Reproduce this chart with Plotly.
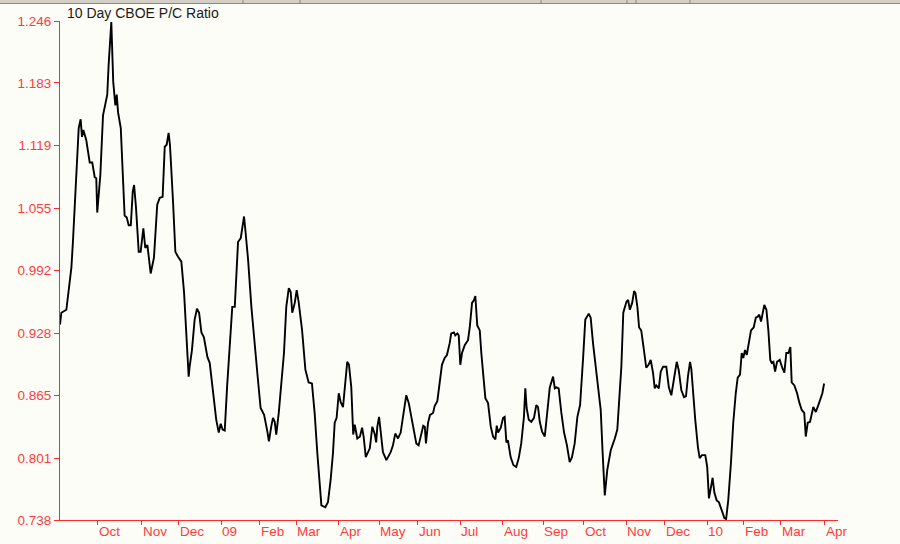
import plotly.graph_objects as go

# ---- data (trading-day index from start of series, 10-day CBOE put/call ratio) ----
day = [
    0.0, 0.7, 3.3, 4.1, 5.9, 6.7, 7.6, 8.5, 9.3, 9.7,
    10.7, 11.4, 12.1, 13.6, 15.4, 16.7, 18.0, 18.8, 19.3, 20.1,
    20.9, 22.3, 24.5, 25.2, 26.6, 27.6, 28.7, 29.4, 30.1, 31.5,
    32.7, 33.5, 34.6, 35.6, 36.7, 37.7, 38.4, 39.4, 40.8, 41.8,
    43.2, 44.2, 45.3, 47.0, 48.7, 50.4, 51.7, 53.2, 54.3, 55.3,
    56.3, 57.0, 58.6, 59.8, 61.2, 62.9, 64.3, 65.5, 66.7, 67.2,
    68.4, 69.8, 71.0, 72.1, 73.3, 74.6, 76.4, 77.6, 79.3, 81.0,
    82.3, 83.3, 84.3, 85.4, 86.6, 88.0, 89.3, 90.6, 92.3, 93.7,
    94.9, 95.4, 96.1, 97.5, 99.2, 100.9, 102.6, 104.0, 105.8, 107.5,
    108.3, 109.5, 110.4, 111.3, 112.1, 113.4, 114.7, 116.1, 117.3, 118.6,
    119.6, 120.4, 121.7, 122.7, 123.7, 125.5, 127.2, 128.9, 130.6, 132.0,
    133.4, 134.6, 135.5, 137.5, 138.9, 140.3, 141.5, 142.4, 143.4, 144.5,
    145.5, 146.7, 147.6, 148.9, 149.8, 151.0, 152.0, 152.8, 154.1, 155.5,
    156.6, 157.4, 158.5, 159.7, 160.6, 161.9, 163.2, 163.9, 164.5, 165.4,
    166.3, 167.4, 169.2, 171.4, 172.6, 173.8, 175.2, 176.6, 177.8, 179.5,
    180.8, 182.1, 183.5, 184.7, 185.9, 187.3, 188.3, 189.1, 189.7, 190.8,
    191.8, 193.4, 194.2, 195.6, 196.8, 198.0, 199.4, 200.6, 202.0, 202.8,
    204.2, 204.9, 206.0, 206.7, 207.5, 208.4, 209.8, 211.5, 212.4, 213.6,
    214.6, 215.3, 216.3, 217.6, 218.4, 219.8, 220.5, 221.9, 223.3, 224.5,
    225.7, 226.4, 227.1, 228.5, 229.7, 230.5, 231.4, 232.2, 233.6, 235.0,
    236.5, 237.8, 239.1, 240.5, 241.2, 241.9, 243.0, 244.3, 245.7, 246.9,
    247.8, 248.7, 249.9, 251.3, 252.5, 253.9, 255.6, 256.5, 257.3, 258.5,
    259.9, 261.3, 262.8, 264.2, 265.4, 266.8, 268.2, 269.6, 271.2, 272.3,
    274.1, 275.1, 276.3, 278.0, 279.3, 280.3, 281.3, 282.4, 283.7, 285.5,
    287.6, 288.9, 290.2, 291.0, 292.0, 293.6, 294.5, 295.4, 296.6, 297.6,
    298.3, 299.3, 300.2, 301.3, 302.7, 303.9, 305.1, 306.2, 307.4, 308.3,
    309.1, 310.4, 311.4, 312.6, 314.3, 315.6, 316.9, 318.3, 319.7, 320.7,
    322.1, 323.5, 324.5, 325.5, 326.6, 327.3, 328.1, 329.3, 330.7, 331.6,
    332.8, 334.5, 335.5, 336.4, 337.5, 338.3, 339.2, 340.4, 341.6, 343.0,
    344.4, 345.3, 346.4, 347.8, 349.0, 350.3, 351.3, 352.5, 353.4, 354.2,
    355.1, 356.0, 357.3, 358.2, 359.6, 360.7, 361.7, 362.5, 363.4, 364.3,
    365.1, 366.2, 367.2, 368.2, 368.9, 369.8, 370.7, 371.7, 373.1, 374.4,
    375.5, 376.5, 377.6, 378.6, 379.3, 380.7, 382.1, 383.2, 384.5, 385.8,
    386.6, 387.6, 388.8, 390.5, 391.8, 393.1, 394.5, 395.2, 396.1,
]

ratio = [
    0.937, 0.949, 0.952, 0.964, 0.995, 1.021, 1.056, 1.086, 1.120, 1.137,
    1.146, 1.128, 1.135, 1.125, 1.102, 1.102, 1.087, 1.086, 1.051, 1.067,
    1.089, 1.150, 1.171, 1.201, 1.245, 1.184, 1.160, 1.171, 1.153, 1.137,
    1.082, 1.048, 1.046, 1.038, 1.038, 1.072, 1.079, 1.056, 1.011, 1.011,
    1.035, 1.015, 1.018, 0.989, 1.005, 1.059, 1.066, 1.067, 1.118, 1.120,
    1.132, 1.120, 1.062, 1.011, 1.006, 1.001, 0.970, 0.926, 0.884, 0.894,
    0.911, 0.942, 0.953, 0.949, 0.929, 0.924, 0.904, 0.898, 0.867, 0.840,
    0.827, 0.836, 0.830, 0.829, 0.873, 0.914, 0.955, 0.955, 1.021, 1.025,
    1.040, 1.047, 1.033, 1.003, 0.955, 0.914, 0.881, 0.852, 0.845, 0.828,
    0.818, 0.833, 0.842, 0.838, 0.825, 0.847, 0.877, 0.908, 0.955, 0.974,
    0.970, 0.949, 0.959, 0.972, 0.960, 0.931, 0.891, 0.878, 0.877, 0.847,
    0.806, 0.775, 0.753, 0.751, 0.756, 0.779, 0.806, 0.837, 0.842, 0.867,
    0.858, 0.853, 0.873, 0.899, 0.896, 0.873, 0.825, 0.835, 0.821, 0.823,
    0.832, 0.823, 0.802, 0.807, 0.811, 0.833, 0.825, 0.817, 0.833, 0.843,
    0.828, 0.807, 0.799, 0.807, 0.814, 0.826, 0.821, 0.827, 0.843, 0.865,
    0.857, 0.843, 0.825, 0.816, 0.814, 0.827, 0.834, 0.833, 0.816, 0.837,
    0.845, 0.847, 0.854, 0.859, 0.881, 0.896, 0.903, 0.906, 0.918, 0.928,
    0.929, 0.926, 0.928, 0.926, 0.896, 0.908, 0.916, 0.921, 0.934, 0.959,
    0.962, 0.966, 0.936, 0.931, 0.908, 0.881, 0.862, 0.857, 0.833, 0.823,
    0.820, 0.834, 0.827, 0.832, 0.842, 0.843, 0.817, 0.819, 0.802, 0.794,
    0.792, 0.801, 0.816, 0.843, 0.872, 0.852, 0.840, 0.838, 0.842, 0.855,
    0.853, 0.838, 0.828, 0.823, 0.847, 0.873, 0.884, 0.872, 0.873, 0.872,
    0.847, 0.827, 0.814, 0.797, 0.802, 0.816, 0.843, 0.855, 0.904, 0.942,
    0.948, 0.944, 0.918, 0.891, 0.870, 0.850, 0.806, 0.763, 0.789, 0.809,
    0.821, 0.830, 0.870, 0.894, 0.949, 0.960, 0.962, 0.952, 0.959, 0.971,
    0.969, 0.955, 0.934, 0.931, 0.911, 0.893, 0.896, 0.901, 0.888, 0.872,
    0.875, 0.872, 0.889, 0.894, 0.894, 0.873, 0.865, 0.883, 0.899, 0.891,
    0.870, 0.863, 0.864, 0.884, 0.899, 0.891, 0.870, 0.840, 0.812, 0.801,
    0.804, 0.804, 0.792, 0.760, 0.772, 0.781, 0.766, 0.758, 0.756, 0.748,
    0.740, 0.739, 0.758, 0.796, 0.837, 0.867, 0.883, 0.886, 0.908, 0.903,
    0.911, 0.906, 0.921, 0.931, 0.934, 0.944, 0.945, 0.947, 0.940, 0.951,
    0.957, 0.952, 0.931, 0.901, 0.898, 0.899, 0.889, 0.899, 0.901, 0.893,
    0.888, 0.908, 0.908, 0.914, 0.878, 0.875, 0.867, 0.858, 0.850, 0.847,
    0.823, 0.837, 0.838, 0.853, 0.848, 0.855, 0.863, 0.867, 0.877,
]

month_labels = ["Oct", "Nov", "Dec", "09", "Feb", "Mar", "Apr", "May", "Jun",
                "Jul", "Aug", "Sep", "Oct", "Nov", "Dec", "10", "Feb", "Mar", "Apr"]
month_first_day = [20, 43, 62, 84, 104, 123, 145, 166, 186, 208, 230, 251,
                   272, 294, 314, 336, 355, 374, 397]

y_ticks = [0.738, 0.801, 0.865, 0.928, 0.992, 1.055, 1.119, 1.183, 1.246]

title_text = "10 Day CBOE P/C Ratio"

# ---- styling ----
RED = "#FF2A2A"
RED_TXT = "#FF3C3C"
BG = "#FDFDF8"
FONT = "Liberation Sans, Arial, sans-serif"

W, H = 900, 544
ML, MR, MT, MB = 60, 62, 21, 24
x_max = 403.3

month_ticks = [d - 0.5 for d in month_first_day]

fig = go.Figure()
fig.add_trace(go.Scatter(
    x=day, y=ratio, mode="lines",
    line=dict(color="#000000", width=1.9),
    hoverinfo="skip", showlegend=False,
))

annotations = []
for lab, xv in zip(month_labels, month_ticks):
    annotations.append(dict(
        x=xv, y=0, xref="x", yref="paper", text=lab, showarrow=False,
        xanchor="left", yanchor="top", yshift=-2, xshift=-1,
        font=dict(family=FONT, size=13.5, color=RED_TXT),
    ))

plot_w = W - ML - MR
plot_h = H - MT - MB
annotations.append(dict(
    x=(65 - ML) / plot_w, y=1 + (MT - 13) / plot_h, xref="paper", yref="paper",
    text=title_text, showarrow=False, xanchor="left", yanchor="middle",
    font=dict(family=FONT, size=14, color="#1a1a1a"),
))

# window chrome strip at the very top
def py(p):
    return 1 + (MT - p) / plot_h

def px(p):
    return (p - ML) / plot_w

shapes = [
    dict(type="rect", xref="paper", yref="paper", x0=px(0), x1=px(W),
         y0=py(3), y1=py(0), fillcolor="#D4D0C8", line=dict(width=0), layer="above"),
    dict(type="line", xref="paper", yref="paper", x0=px(0), x1=px(W),
         y0=py(3.5), y1=py(3.5), line=dict(color="#8C8880", width=1), layer="above"),
]
for sx in [243, 300, 541, 627, 636, 690]:
    shapes.append(dict(type="line", xref="paper", yref="paper", x0=px(sx), x1=px(sx),
                       y0=py(3), y1=py(0), line=dict(color="#8C8880", width=1), layer="above"))

fig.update_layout(
    width=W, height=H,
    margin=dict(l=ML, r=MR, t=MT, b=MB, pad=0),
    paper_bgcolor=BG, plot_bgcolor=BG,
    font=dict(family=FONT, size=13.5, color=RED_TXT),
    annotations=annotations,
    shapes=shapes,
    xaxis=dict(
        range=[0, x_max], showgrid=False, zeroline=False,
        showline=True, linecolor=RED, linewidth=1,
        tickmode="array", tickvals=month_ticks, ticktext=[""] * len(month_ticks),
        ticks="outside", ticklen=4, tickcolor=RED, tickwidth=1,
        fixedrange=True,
    ),
    yaxis=dict(
        range=[0.738, 1.246], showgrid=False, zeroline=False,
        showline=True, linecolor=RED, linewidth=1,
        tickmode="array", tickvals=y_ticks, ticktext=[f"{v:.3f}" for v in y_ticks],
        ticks="outside", ticklen=5, tickcolor=RED, tickwidth=1,
        tickfont=dict(family=FONT, size=13.5, color=RED_TXT),
        fixedrange=True,
    ),
)

fig.write_html(
    "out.html",
    config={"displayModeBar": False},
    post_script=(
        "document.body.style.margin='0';"
        "document.body.style.padding='0';"
        "document.body.style.background='" + BG + "';"
        "document.body.style.overflow='hidden';"
    ),
)
